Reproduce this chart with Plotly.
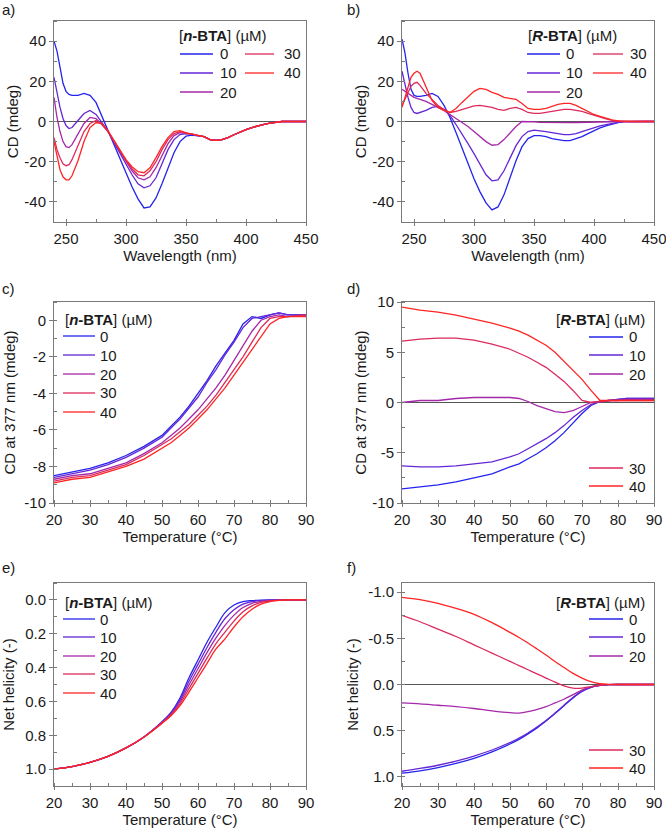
import plotly.graph_objects as go

W, H = 666, 832
FONT = "Liberation Sans, Arial, sans-serif"
FS = 15

CONC = ["0", "10", "20", "30", "40"]
COLORS = ["#2424ee", "#6426d6", "#a428a8", "#dc2a5c", "#ff2424"]

# ---------------- panel a / b : CD spectra ----------------
WL = [240, 242.5, 245, 247.5, 250, 252.5, 255, 260, 265, 270, 275, 280, 285, 290, 295,
      300, 305, 310, 315, 320, 325, 330, 335, 340, 345, 350, 355, 360, 365, 370, 375,
      380, 385, 390, 395, 400, 405, 410, 415, 420, 425, 430, 435, 440, 445, 450]

A_TAIL = [-7.5, -9.0, -9.4, -9.0, -8.0, -6.6, -5.2, -4.0, -3.0, -2.1, -1.4, -0.8, -0.3, 0, 0, 0, 0, 0]
a_0 = [40, 35, 27, 19, 15, 13.5, 13, 13, 14, 13, 9.5, 2.5, -5, -12, -19, -26, -32.5, -38.5, -43,
       -42.5, -38, -31, -23, -15.5, -10, -7.3, -6.8, -7.2] + A_TAIL
a_10 = [22, 14, 7, 1.5, -2, -3.5, -3, 0.5, 4, 5.5, 3.5, -0.5, -5, -10.5, -16, -21.5, -26.5, -31,
        -33, -32, -28, -21, -14, -9, -6.5, -6, -6.3, -7] + A_TAIL
a_20 = [12, 2, -5, -10, -12.5, -13, -11.5, -6, -1, 2, 1.5, -1.5, -5, -10, -15, -20, -24.5, -28,
        -29, -27.5, -23, -17, -11, -7, -5.5, -6, -6.3, -7] + A_TAIL
a_30 = [-8, -14, -18, -21, -22, -21.5, -19, -12, -5, -1, 0.5, -1.5, -5, -9.5, -14.5, -19.5, -23.5,
        -26.5, -27, -24.5, -20, -14, -9, -6, -5, -5.8, -6.3, -7] + A_TAIL
a_40 = [-10, -18, -24, -27.5, -29, -29, -27, -19.5, -10, -3, -0.5, -1, -4.5, -9.5, -14.5, -19,
        -22.5, -25, -25.5, -23, -18, -12.5, -8, -5, -4.5, -5.6, -6.3, -7] + A_TAIL

b_0 = [41, 34, 24, 16, 13, 12.5, 12.5, 13, 14, 12.5, 8, 2, -5.5, -13.5, -21.5, -28.5, -35, -40.5,
       -44, -42.5, -36.5, -28, -19.5, -12.5, -8.5, -7, -7, -7.5, -8.5, -9, -9.5, -9.5, -8.5, -7.5,
       -6, -4.5, -3.2, -2.2, -1.3, -0.6, -0.1, 0, 0, 0, 0, 0]
b_10 = [25, 18, 12, 7, 4.5, 4, 4.5, 5.5, 7, 7.5, 6, 3, -1.5, -6, -11, -16, -21.5, -26.5, -29.5,
        -29, -24.5, -18.5, -12, -7.5, -5, -4.3, -4.5, -5, -5.5, -6, -6.5, -6.5, -6, -5, -4, -3,
        -2.2, -1.5, -0.9, -0.4, -0.1, 0, 0, 0, 0, 0]
b_20 = [16, 15, 14, 13, 12, 11.5, 11, 10, 8.5, 7, 5.5, 3.5, 1.5, -0.5, -2.5, -5, -7.5, -10, -11.8,
        -11.5, -9, -5.5, -2.5, 0, 0, -0.2, -0.4, -0.5, -0.6, -0.6, -0.6, -0.6, -0.5, -0.4, -0.3,
        -0.2, -0.1, 0, 0, 0, 0, 0, 0, 0, 0, 0]
b_30 = [8, 11, 14.5, 17.5, 19, 19.5, 18, 14, 11, 8, 6, 4.5, 5, 6, 7, 7.8, 8, 7.5, 7, 6, 5.5, 6.5,
        7, 6, 4.5, 4, 4, 4.5, 5, 5.5, 6, 6, 5.5, 5, 4, 3, 2, 1.3, 0.6, 0.2, 0, 0, 0, 0, 0, 0]
b_40 = [7, 12, 17, 22, 24, 25, 24, 17, 10.5, 7, 5.5, 4.5, 6.5, 9.5, 12.5, 15, 16.5, 16, 14.5,
        13.5, 12, 11.5, 11, 9, 6.5, 6, 6, 6.5, 7.5, 8.5, 9, 9, 8, 6.5, 5, 3.5, 2.5, 1.5, 0.8,
        0.3, 0, 0, 0, 0, 0, 0]

# ---------------- temperature panels ----------------
T = [20, 25, 30, 35, 40, 45, 50, 52.5, 55, 57.5, 60, 62.5, 65, 67.5, 70, 72.5, 75, 77.5,
     80, 82.5, 85, 90]

c_0 = [-8.5, -8.3, -8.1, -7.8, -7.4, -6.9, -6.3, -5.8, -5.3, -4.7, -4.0, -3.3, -2.5, -1.8, -1.1,
       -0.2, 0.2, 0.1, 0.3, 0.4, 0.3, 0.3]
c_10 = [-8.6, -8.4, -8.2, -7.9, -7.5, -7.0, -6.4, -5.9, -5.4, -4.8, -4.2, -3.4, -2.7, -1.9, -1.2,
        -0.4, 0.1, 0.2, 0.3, 0.4, 0.3, 0.3]
c_20 = [-8.7, -8.5, -8.4, -8.1, -7.8, -7.3, -6.7, -6.3, -5.9, -5.4, -4.9, -4.3, -3.7, -3.0, -2.2,
        -1.4, -0.6, 0.0, 0.2, 0.3, 0.2, 0.3]
c_30 = [-8.8, -8.6, -8.5, -8.2, -7.9, -7.4, -6.8, -6.5, -6.1, -5.7, -5.2, -4.7, -4.1, -3.4, -2.7,
        -2.0, -1.2, -0.4, 0.1, 0.2, 0.2, 0.3]
c_40 = [-8.9, -8.7, -8.6, -8.3, -8.0, -7.6, -7.0, -6.7, -6.3, -5.9, -5.4, -4.9, -4.3, -3.7, -3.0,
        -2.3, -1.6, -0.9, -0.2, 0.1, 0.2, 0.2]

d_0 = [-8.6, -8.4, -8.2, -7.9, -7.5, -7.1, -6.4, -6.1, -5.6, -5.1, -4.5, -3.8, -3.0, -2.0, -1.1,
       -0.3, 0.1, 0.2, 0.3, 0.4, 0.4, 0.4]
d_10 = [-6.3, -6.4, -6.4, -6.3, -6.1, -5.9, -5.4, -5.1, -4.6, -4.1, -3.6, -3.0, -2.3, -1.5, -0.8,
        -0.2, 0.1, 0.2, 0.3, 0.4, 0.4, 0.4]
d_20 = [0.0, 0.2, 0.2, 0.4, 0.5, 0.5, 0.5, 0.4, 0.1, -0.3, -0.6, -0.9, -1.0, -0.8, -0.4, 0.0, 0.1,
        0.2, 0.2, 0.3, 0.3, 0.3]
d_30 = [6.1, 6.3, 6.4, 6.4, 6.2, 5.8, 5.3, 4.9, 4.5, 4.0, 3.5, 2.8, 2.1, 1.2, 0.2, 0.0, 0.1, 0.2,
        0.2, 0.2, 0.2, 0.2]
d_40 = [9.5, 9.2, 9.0, 8.7, 8.3, 7.9, 7.4, 7.1, 6.7, 6.2, 5.7, 5.0, 4.1, 3.2, 2.3, 1.2, 0.2, 0.2,
        0.2, 0.2, 0.2, 0.2]

e_0 = [1.0, 0.985, 0.96, 0.925, 0.875, 0.81, 0.72, 0.665, 0.58, 0.46, 0.355, 0.25, 0.16, 0.075,
       0.03, 0.01, 0.004, 0.001, 0, 0, 0, 0]
e_10 = [1.0, 0.985, 0.96, 0.925, 0.875, 0.81, 0.7225, 0.67, 0.591, 0.481, 0.381, 0.281, 0.19,
        0.11, 0.058, 0.025, 0.01, 0.004, 0.001, 0, 0, 0]
e_20 = [1.0, 0.985, 0.96, 0.925, 0.875, 0.81, 0.725, 0.675, 0.602, 0.502, 0.407, 0.312, 0.225,
        0.15, 0.09, 0.045, 0.02, 0.008, 0.003, 0.001, 0, 0]
e_30 = [1.0, 0.985, 0.96, 0.925, 0.875, 0.81, 0.7275, 0.68, 0.614, 0.524, 0.434, 0.344, 0.258,
        0.19, 0.125, 0.07, 0.035, 0.015, 0.006, 0.002, 0, 0]
e_40 = [1.0, 0.985, 0.96, 0.925, 0.875, 0.81, 0.73, 0.685, 0.625, 0.545, 0.46, 0.375, 0.29, 0.23,
        0.16, 0.1, 0.055, 0.025, 0.01, 0.003, 0, 0]

f_0 = [0.96, 0.935, 0.9, 0.855, 0.8, 0.73, 0.645, 0.595, 0.535, 0.47, 0.395, 0.315, 0.23, 0.145,
       0.075, 0.03, 0.008, 0.002, 0, 0, 0, 0]
f_10 = [0.94, 0.91, 0.875, 0.83, 0.775, 0.71, 0.63, 0.58, 0.525, 0.46, 0.39, 0.31, 0.225, 0.14,
        0.072, 0.028, 0.008, 0.002, 0, 0, 0, 0]
f_20 = [0.2, 0.21, 0.225, 0.24, 0.26, 0.285, 0.305, 0.31, 0.295, 0.27, 0.24, 0.2, 0.16, 0.11,
        0.06, 0.025, 0.008, 0.002, 0, 0, 0, 0]
f_30 = [-0.75, -0.68, -0.6, -0.52, -0.43, -0.34, -0.25, -0.205, -0.16, -0.115, -0.07, -0.025,
        0.015, 0.04, 0.04, 0.022, 0.008, 0.002, 0, 0, 0, 0]
f_40 = [-0.945, -0.92, -0.88, -0.825, -0.76, -0.67, -0.565, -0.51, -0.45, -0.385, -0.32, -0.25,
        -0.185, -0.12, -0.07, -0.03, -0.008, -0.002, 0, 0, 0, 0]

# tick labels
X_WL_TICKS = [250, 300, 350, 400, 450]
X_T_TICKS = [20, 30, 40, 50, 60, 70, 80, 90]
Y_AB_TICKS = [-40, -20, 0, 20, 40]
Y_C_TICKS = [-10, -8, -6, -4, -2, 0]
Y_D_TICKS = [-10, -5, 0, 5, 10]
Y_E_TICKS = [0.0, 0.2, 0.4, 0.6, 0.8, 1.0]
Y_F_TICKS = [-1.0, -0.5, 0.0, 0.5, 1.0]

N_TITLE = "[<b><i>n</i>-BTA</b>] (µM)"
R_TITLE = "[<b><i>R</i>-BTA</b>] (µM)"


def lbl(v, fmt):
    return fmt.format(v).replace("−", "-")


def px(x):
    return x / W


def py(y):
    return 1 - y / H


fig = go.Figure()

XL = [px(54), px(306)]
XR = [px(402), px(654)]
Y1 = [py(222), py(21)]
Y2 = [py(503), py(302)]
Y3 = [py(786), py(583)]

panels = [
    (1, WL, [a_0, a_10, a_20, a_30, a_40], "linear"),
    (2, WL, [b_0, b_10, b_20, b_30, b_40], "linear"),
    (3, T, [c_0, c_10, c_20, c_30, c_40], "linear"),
    (4, T, [d_0, d_10, d_20, d_30, d_40], "linear"),
    (5, T, [e_0, e_10, e_20, e_30, e_40], "spline"),
    (6, T, [f_0, f_10, f_20, f_30, f_40], "spline"),
]

for idx, xs, series, shape in panels:
    sfx = "" if idx == 1 else str(idx)
    for k, ys in enumerate(series):
        fig.add_trace(go.Scatter(
            x=xs, y=ys, mode="lines", name=CONC[k],
            line=dict(color=COLORS[k], width=1.3, shape=shape),
            xaxis="x" + sfx, yaxis="y" + sfx, showlegend=False,
        ))

AX_COL = "#7a7a7a"
TXT = "#1a1a1a"
TFONT = dict(size=FS, color=TXT, family=FONT)


def xax(domain, anchor, rng, ticks, minor, title):
    return dict(domain=domain, anchor=anchor, range=rng, showline=True, mirror=True,
                linecolor=AX_COL, linewidth=1, ticks="outside", ticklen=3, tickcolor=AX_COL,
                tickvals=ticks, ticktext=[str(t) for t in ticks], automargin=False,
                ticklabeloverflow="allow",
                minor=dict(dtick=minor, ticks="inside", ticklen=3, tickcolor=AX_COL, showgrid=False),
                showgrid=False, zeroline=False, tickfont=TFONT,
                title=dict(text=title, font=TFONT, standoff=0))


def yax(domain, anchor, rng, ticks, labels, minor, title, zl, so):
    return dict(domain=domain, anchor=anchor, range=rng, showline=True, mirror=True,
                linecolor=AX_COL, linewidth=1, ticks="outside", ticklen=4, tickcolor=AX_COL,
                tickvals=ticks, ticktext=labels, automargin=False,
                minor=dict(dtick=minor, ticks="inside", ticklen=3, tickcolor=AX_COL, showgrid=False),
                showgrid=False, zeroline=zl, zerolinecolor="#555555", zerolinewidth=1,
                tickfont=TFONT, title=dict(text=title, font=TFONT, standoff=so))


fig.update_layout(
    xaxis=xax(XL, "y", [240, 450], X_WL_TICKS, 25, "Wavelength (nm)"),
    yaxis=yax(Y1, "x", [-50, 50], Y_AB_TICKS, [lbl(v, "{:d}") for v in Y_AB_TICKS], 10, "CD (mdeg)", True, 2),
    xaxis2=xax(XR, "y2", [240, 450], X_WL_TICKS, 25, "Wavelength (nm)"),
    yaxis2=yax(Y1, "x2", [-50, 50], Y_AB_TICKS, [lbl(v, "{:d}") for v in Y_AB_TICKS], 10, "CD (mdeg)", True, 2),
    xaxis3=xax(XL, "y3", [20, 90], X_T_TICKS, 5, "Temperature (°C)"),
    yaxis3=yax(Y2, "x3", [-10, 1], Y_C_TICKS, [lbl(v, "{:d}") for v in Y_C_TICKS], 1, "CD at 377 nm (mdeg)", False, 5),
    xaxis4=xax(XR, "y4", [20, 90], X_T_TICKS, 5, "Temperature (°C)"),
    yaxis4=yax(Y2, "x4", [-10, 10], Y_D_TICKS, [lbl(v, "{:d}") for v in Y_D_TICKS], 2.5, "CD at 377 nm (mdeg)", True, 2),
    xaxis5=xax(XL, "y5", [20, 90], X_T_TICKS, 5, "Temperature (°C)"),
    yaxis5=yax(Y3, "x5", [1.1, -0.1], Y_E_TICKS, [lbl(v, "{:.1f}") for v in Y_E_TICKS], 0.1, "Net helicity (-)", False, 6),
    xaxis6=xax(XR, "y6", [20, 90], X_T_TICKS, 5, "Temperature (°C)"),
    yaxis6=yax(Y3, "x6", [1.1, -1.1], Y_F_TICKS, [lbl(v, "{:.1f}") for v in Y_F_TICKS], 0.25, "Net helicity (-)", True, 5),
)

# ---------------- manual legends (pixel layout) ----------------
LEGENDS = [
    (N_TITLE, 177, "left", 36, [(0, 180, 213, 218, 54), (1, 180, 213, 218, 73), (2, 180, 213, 218, 92),
                                (3, 245, 274, 282, 54), (4, 245, 274, 282, 73)]),
    (R_TITLE, 526, "left", 36, [(0, 527, 560, 564, 54), (1, 527, 560, 564, 73), (2, 527, 560, 564, 92),
                                (3, 593, 623, 628, 54), (4, 593, 623, 628, 73)]),
    (N_TITLE, 63, "left", 319, [(k, 63, 95, 98, yy) for k, yy in enumerate([336, 355, 374, 393, 412])]),
    (R_TITLE, 647, "right", 319, [(0, 589, 623, 627, 337), (1, 589, 623, 627, 355), (2, 589, 623, 627, 374),
                                  (3, 589, 623, 627, 468), (4, 589, 623, 627, 486)]),
    (N_TITLE, 63, "left", 602, [(k, 63, 95, 98, yy) for k, yy in enumerate([619, 637, 656, 674, 693])]),
    (R_TITLE, 647, "right", 602, [(0, 589, 623, 627, 619), (1, 589, 623, 627, 637), (2, 589, 623, 627, 656),
                                  (3, 589, 623, 627, 750), (4, 589, 623, 627, 768)]),
]

for title, tx, tanc, ty, entries in LEGENDS:
    fig.add_annotation(text=title, x=px(tx), y=py(ty), xref="paper", yref="paper",
                       xanchor=tanc, yanchor="middle", showarrow=False, font=TFONT)
    for k, x0, x1, xt, yy in entries:
        fig.add_shape(type="line", xref="paper", yref="paper", x0=px(x0), x1=px(x1),
                      y0=py(yy), y1=py(yy), line=dict(color=COLORS[k], width=1.3))
        fig.add_annotation(text=CONC[k], x=px(xt), y=py(yy), xref="paper", yref="paper",
                           xanchor="left", yanchor="middle", showarrow=False, font=TFONT)

for text, x, y in [("a)", 0, 10), ("b)", 345, 10), ("c)", 0, 289), ("d)", 345, 289),
                   ("e)", 0, 567), ("f)", 345, 567)]:
    fig.add_annotation(text=text, x=px(x), y=py(y), xref="paper", yref="paper",
                       xanchor="left", yanchor="middle", showarrow=False, font=TFONT)

fig.update_layout(width=W, height=H, margin=dict(l=0, r=0, t=0, b=0),
                  paper_bgcolor="white", plot_bgcolor="white", showlegend=False,
                  font=dict(family=FONT, size=FS, color=TXT))

fig.write_html("out.html", config={"displayModeBar": False},
               post_script="document.body.style.margin='0';document.body.style.overflow='hidden';")
